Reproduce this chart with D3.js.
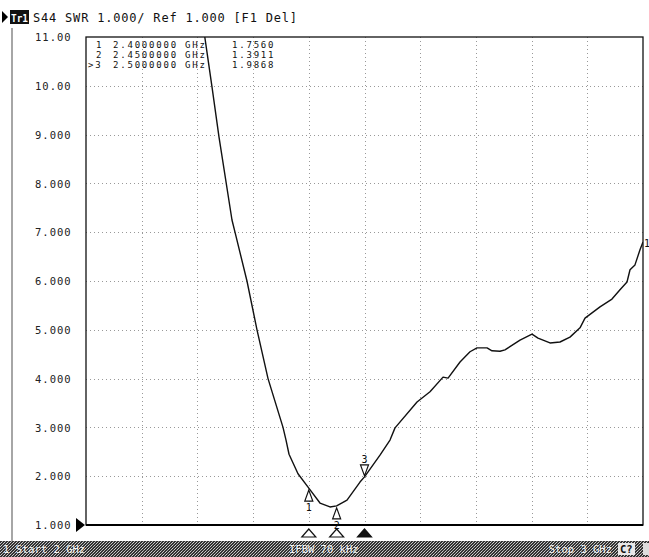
<!DOCTYPE html>
<html><head><meta charset="utf-8">
<script src="https://cdn.jsdelivr.net/npm/d3@7"></script>
<style>
body{margin:0;background:#fff;}
svg{display:block;}
text{font-family:"DejaVu Sans Mono",monospace;}
</style></head>
<body><div id="chart"></div>
<script>
// ---- data ----
const freqGHz = [2.212,2.2262,2.2388,2.2621,2.2675,2.289,2.307,2.3268,2.3537,2.3591,2.3645,2.3806,2.4,2.4201,2.438,2.45,2.4686,2.4919,2.5,2.5278,2.5458,2.5548,2.5943,2.6176,2.641,2.65,2.6715,2.6894,2.702,2.72,2.7289,2.7433,2.7522,2.7792,2.8007,2.8115,2.833,2.851,2.8689,2.8869,2.8959,2.9228,2.9443,2.9587,2.9713,2.9767,2.9856,2.9946,3.0];
const swr = [11.1,9.98,8.95,7.25,7.0,6.0,5.0,4.0,3.0,2.74,2.45,2.05,1.756,1.45,1.37,1.3911,1.51,1.88,1.9868,2.43,2.74,2.99,3.52,3.73,4.03,4.01,4.34,4.55,4.63,4.63,4.57,4.56,4.59,4.79,4.91,4.83,4.73,4.75,4.85,5.04,5.24,5.47,5.63,5.82,5.98,6.23,6.33,6.64,6.8];
const yTickValues = [11,10,9,8,7,6,5,4,3,2,1];
const yTickLabels = ["11.00","10.00","9.000","8.000","7.000","6.000","5.000","4.000","3.000","2.000","1.000"];
const xGridValues = [2.1,2.2,2.3,2.4,2.5,2.6,2.7,2.8,2.9];
const markerIds = ["1","2","3"];
const markerFreq = [2.40,2.45,2.50];
const markerVal = [1.7560,1.3911,1.9868];
const markerFreqLabels = ["2.4000000","2.4500000","2.5000000"];
const markerValLabels = ["1.7560","1.3911","1.9868"];
const headerText = "S44 SWR 1.000/ Ref 1.000 [F1 Del]";
const statusTexts = ["1  Start 2 GHz","IFBW 70 kHz","Stop 3 GHz"];

// ---- layout ----
const W=649,H=557;
const L=86,R=643,T=37,B=525;
const svg=d3.select("#chart").append("svg").attr("width",W).attr("height",H);
const x=d3.scaleLinear().domain([2,3]).range([L,R]);
const y=d3.scaleLinear().domain([1,11]).range([B,T]);

const defs=svg.append("defs");
defs.append("clipPath").attr("id","clip").append("rect").attr("x",L).attr("y",T).attr("width",R-L).attr("height",B-T);
const pat=defs.append("pattern").attr("id","dither").attr("width",3).attr("height",3).attr("patternUnits","userSpaceOnUse");
pat.append("rect").attr("width",3).attr("height",3).attr("fill","#333");
pat.append("rect").attr("x",0).attr("y",0).attr("width",1).attr("height",1).attr("fill","#c8c8c8");
pat.append("rect").attr("x",2).attr("y",1).attr("width",1).attr("height",1).attr("fill","#aaa");
pat.append("rect").attr("x",1).attr("y",2).attr("width",1).attr("height",1).attr("fill","#d0d0d0");

// window frame
svg.append("line").attr("x1",12).attr("x2",12).attr("y1",28).attr("y2",541).attr("stroke","#888").attr("stroke-width",1.5);

// header
svg.append("path").attr("d","M2,11 L8,17 L2,23 Z").attr("fill","#000");
svg.append("rect").attr("x",10).attr("y",10).attr("width",19).attr("height",14).attr("fill","#111");
svg.append("text").attr("x",11).attr("y",21.5).attr("font-size",10).attr("font-weight","bold").attr("fill","#fff")
  .attr("textLength",17).attr("lengthAdjust","spacingAndGlyphs").text("Tr1");
svg.append("text").attr("x",33).attr("y",22).attr("font-size",12).attr("fill","#111")
  .attr("textLength",264).attr("lengthAdjust","spacing").text(headerText);

// grid
const grid=svg.append("g").attr("stroke","#999").attr("stroke-width",1).attr("stroke-dasharray","1,3");
grid.selectAll("line.v").data(xGridValues).join("line").attr("class","v")
  .attr("x1",d=>Math.round(x(d))+0.5).attr("x2",d=>Math.round(x(d))+0.5).attr("y1",T).attr("y2",B);
grid.selectAll("line.h").data(yTickValues.filter(v=>v>1&&v<11)).join("line").attr("class","h")
  .attr("y1",d=>Math.round(y(d))+0.5).attr("y2",d=>Math.round(y(d))+0.5).attr("x1",L).attr("x2",R);

// y axis labels
const yAxis=d3.axisLeft(y).tickValues(yTickValues).tickFormat((d,i)=>yTickLabels[i]).tickSize(0);
const ga=svg.append("g").attr("transform",`translate(${L},0)`).call(yAxis);
ga.select(".domain").remove();
ga.selectAll("text").attr("x",35-L).attr("text-anchor","start").attr("font-family","DejaVu Sans Mono")
  .attr("font-size",10.5).attr("letter-spacing",1).attr("fill","#222").attr("dy","0.35em");

// frame
svg.append("rect").attr("x",L).attr("y",T).attr("width",R-L).attr("height",B-T).attr("fill","none").attr("stroke","#111").attr("stroke-width",1.3);
svg.append("line").attr("x1",L).attr("x2",R).attr("y1",B).attr("y2",B).attr("stroke","#000").attr("stroke-width",1.8);
// reference arrow
svg.append("path").attr("d",`M${L-10},${y(1)-7} L${L-1},${y(1)} L${L-10},${y(1)+7} Z`).attr("fill","#000");

// marker table
const tbl=svg.append("g").attr("font-size",9).attr("letter-spacing",1.8).attr("fill","#111");
markerIds.forEach((id,i)=>{
  const yy=48+i*10;
  tbl.append("text").attr("x",i==2?88:96).attr("y",yy).text(i==2?">3":id);
  tbl.append("text").attr("x",113).attr("y",yy).text(markerFreqLabels[i]);
  tbl.append("text").attr("x",185).attr("y",yy).text("GHz");
  tbl.append("text").attr("x",232).attr("y",yy).text(markerValLabels[i]);
});
// trace
const line=d3.line().x((d,i)=>x(freqGHz[i])).y(d=>y(d));
svg.append("path").datum(swr).attr("d",line).attr("clip-path","url(#clip)").attr("fill","none").attr("stroke","#111").attr("stroke-width",1.4).attr("stroke-linejoin","round");

// markers on trace
markerIds.forEach((id,i)=>{
  const mx=x(markerFreq[i]),my=y(markerVal[i]);
  if(i<2){
    svg.append("path").attr("d",`M${mx},${my+2} L${mx+4},${my+13} L${mx-4},${my+13} Z`).attr("fill","#fff").attr("stroke","#111").attr("stroke-width",1.2);
    svg.append("text").attr("x",mx).attr("y",my+23).attr("text-anchor","middle").attr("font-size",10).attr("fill","#111").text(id);
  } else {
    svg.append("path").attr("d",`M${mx},${my-1} L${mx+4},${my-12} L${mx-4},${my-12} Z`).attr("fill","#fff").attr("stroke","#111").attr("stroke-width",1.2);
    svg.append("text").attr("x",mx).attr("y",my-14).attr("text-anchor","middle").attr("font-size",10).attr("fill","#111").text(id);
  }
  svg.append("path").attr("d",`M${mx},${B+4} L${mx+7},${B+12} L${mx-7},${B+12} Z`)
    .attr("fill",i==2?"#111":"#fff").attr("stroke","#111").attr("stroke-width",1.2);
});
// trace end indicator
svg.append("text").attr("x",R+1).attr("y",y(swr[swr.length-1])+5).attr("font-size",10).attr("fill","#111").text("1");

// status bar
svg.append("rect").attr("x",0).attr("y",541).attr("width",W).attr("height",16).attr("fill","url(#dither)");
const st=svg.append("g").attr("font-family","Liberation Sans, Arial").attr("font-size",10.5).attr("fill","#f4f4f4").style("white-space","pre");
st.append("text").attr("x",3).attr("y",553).text(statusTexts[0]);
st.append("text").attr("x",289).attr("y",553).text(statusTexts[1]);
st.append("text").attr("x",612).attr("y",553).attr("text-anchor","end").text(statusTexts[2]);
svg.append("rect").attr("x",618).attr("y",543).attr("width",17).attr("height",12).attr("fill","#e8e8e8");
svg.append("text").attr("x",620).attr("y",553).attr("font-family","Liberation Sans, Arial").attr("font-weight","bold").attr("font-size",10.5).attr("fill","#111").text("C?");
svg.append("rect").attr("x",643).attr("y",543).attr("width",6).attr("height",12).attr("fill","#ddd");
</script></body></html>
